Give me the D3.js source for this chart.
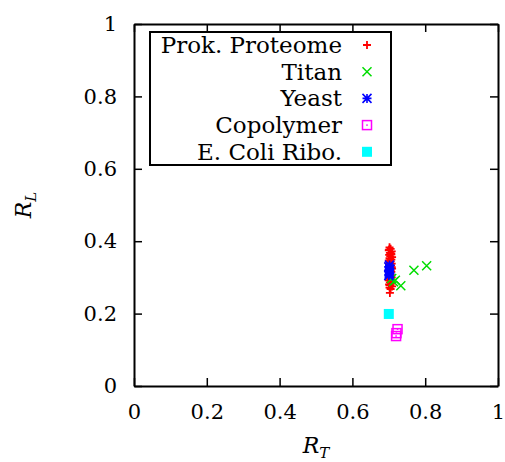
<!DOCTYPE html>
<html>
<head>
<meta charset="utf-8">
<script src="https://cdn.jsdelivr.net/npm/d3@7"></script>
<style>
body{margin:0;background:#fff;}
</style>
</head>
<body>
<div id="chart"></div>
<script>
// data
var seriesNames=['Prok. Proteome','Titan','Yeast','Copolymer','E. Coli Ribo.'];
var seriesColors=['#ff0000','#00dd00','#0000ff','#ff00ff','#00ffff'];
var seriesSymbols=['plus','cross','star','boxdot','boxfill'];

var proteomeRT=[0.702,0.705,0.700,0.708,0.703,0.706,0.701,0.704,0.709,0.702,0.707,0.700,0.705,0.703,0.708,0.701,0.706,0.704,0.702,0.709,0.700,0.705,0.707,0.703,0.701,0.706,0.704,0.708,0.702,0.705,0.700,0.707,0.703,0.706,0.701,0.704,0.709,0.702,0.705,0.703,0.701,0.707,0.704,0.700,0.708,0.703,0.706,0.702];
var proteomeRL=[0.383,0.379,0.375,0.372,0.368,0.366,0.362,0.359,0.356,0.353,0.349,0.347,0.344,0.341,0.338,0.336,0.333,0.330,0.327,0.324,0.321,0.318,0.315,0.312,0.309,0.306,0.303,0.300,0.297,0.295,0.292,0.289,0.286,0.283,0.281,0.278,0.275,0.272,0.268,0.257,0.377,0.364,0.351,0.339,0.328,0.301,0.287,0.279];
var titanRT=[0.769,0.804,0.733,0.713,0.708,0.718];
var titanRL=[0.320,0.332,0.277,0.288,0.297,0.292];
var yeastRT=[0.700,0.702,0.701,0.703,0.700,0.702,0.701];
var yeastRL=[0.305,0.312,0.318,0.323,0.329,0.334,0.309];
var copolyRT=[0.724,0.721,0.720];
var copolyRL=[0.157,0.146,0.138];
var ecoliRT=[0.700];
var ecoliRL=[0.199];

var tickValues=[0,0.2,0.4,0.6,0.8,1];
var tickLabels=['0','0.2','0.4','0.6','0.8','1'];

var FONT='"DejaVu Serif","Liberation Serif",serif';

var width=505,height=462;
var margin={left:134,right:7,top:24,bottom:76};
var w=width-margin.left-margin.right;
var h=height-margin.top-margin.bottom;

var svg=d3.select('#chart').append('svg')
    .attr('width',width)
    .attr('height',height);
var g=svg.append('g')
    .attr('transform','translate('+margin.left+','+margin.top+')');

var x=d3.scaleLinear().domain([0,1]).range([0,w]);
var y=d3.scaleLinear().domain([0,1]).range([h,0]);

function fmt(d){return tickLabels[tickValues.indexOf(d)];}

// axes, ticks pointing inward
var xAxis=d3.axisBottom(x).tickValues(tickValues).tickFormat(fmt).tickSizeInner(-8).tickSizeOuter(0).tickPadding(18);
var yAxis=d3.axisLeft(y).tickValues(tickValues).tickFormat(fmt).tickSizeInner(-8).tickSizeOuter(0).tickPadding(17);
var xTop=d3.axisTop(x).tickValues(tickValues).tickFormat('').tickSizeInner(-8).tickSizeOuter(0);
var yRight=d3.axisRight(y).tickValues(tickValues).tickFormat('').tickSizeInner(-8).tickSizeOuter(0);

g.append('g').attr('transform','translate(0,'+h+')').call(xAxis);
g.append('g').call(yAxis);
g.append('g').call(xTop);
g.append('g').attr('transform','translate('+w+',0)').call(yRight);

g.selectAll('.domain').attr('stroke','#000').attr('stroke-width',2);
g.selectAll('.tick line').attr('stroke','#000').attr('stroke-width',1.5);
g.selectAll('.tick text')
    .style('font-family',FONT).style('font-size','21px').attr('fill','#000');

// axis titles
var xt=svg.append('text')
    .attr('x',margin.left+x(0.5))
    .attr('y',453)
    .attr('text-anchor','middle')
    .style('font-family',FONT).style('font-size','22px');
xt.append('tspan').style('font-style','italic').text('R');
xt.append('tspan').style('font-style','italic').style('font-size','15px').attr('dy',5).text('T');

var yt=svg.append('text')
    .attr('transform','translate(31,205) rotate(-90)')
    .attr('text-anchor','middle')
    .style('font-family',FONT).style('font-size','22px');
yt.append('tspan').style('font-style','italic').text('R');
yt.append('tspan').style('font-style','italic').style('font-size','15px').attr('dy',5).text('L');

function drawSymbol(sel,type,color,cx,cy){
    var s;
    if(type==='plus'){
        s=4;
        sel.append('path').attr('d','M'+(cx-s)+','+cy+'H'+(cx+s)+'M'+cx+','+(cy-s)+'V'+(cy+s))
            .attr('stroke',color).attr('stroke-width',1.8).attr('fill','none');
    }else if(type==='cross'){
        s=4.5;
        sel.append('path').attr('d','M'+(cx-s)+','+(cy-s)+'L'+(cx+s)+','+(cy+s)+'M'+(cx-s)+','+(cy+s)+'L'+(cx+s)+','+(cy-s))
            .attr('stroke',color).attr('stroke-width',1.5).attr('fill','none');
    }else if(type==='star'){
        s=4.5;
        sel.append('path').attr('d','M'+(cx-s)+','+cy+'H'+(cx+s)+'M'+cx+','+(cy-s)+'V'+(cy+s)+
            'M'+(cx-s)+','+(cy-s)+'L'+(cx+s)+','+(cy+s)+'M'+(cx-s)+','+(cy+s)+'L'+(cx+s)+','+(cy-s))
            .attr('stroke',color).attr('stroke-width',1.6).attr('fill','none');
    }else if(type==='boxdot'){
        s=4.5;
        sel.append('rect').attr('x',cx-s).attr('y',cy-s).attr('width',2*s).attr('height',2*s)
            .attr('stroke',color).attr('stroke-width',1.5).attr('fill','none');
        sel.append('rect').attr('x',cx-0.75).attr('y',cy-0.75).attr('width',1.5).attr('height',1.5)
            .attr('fill',color);
    }else{
        s=5;
        sel.append('rect').attr('x',cx-s).attr('y',cy-s).attr('width',2*s).attr('height',2*s)
            .attr('fill',color);
    }
}

var series=[
    {rt:proteomeRT,rl:proteomeRL},
    {rt:titanRT,rl:titanRL},
    {rt:yeastRT,rl:yeastRL},
    {rt:copolyRT,rl:copolyRL},
    {rt:ecoliRT,rl:ecoliRL}
];

var pts=g.append('g');
series.forEach(function(s,i){
    s.rt.forEach(function(v,j){
        drawSymbol(pts,seriesSymbols[i],seriesColors[i],x(v),y(s.rl[j]));
    });
});

// legend
var leg=svg.append('g');
leg.append('rect')
    .attr('x',150).attr('y',32).attr('width',241).attr('height',133)
    .attr('fill','#fff').attr('stroke','#000').attr('stroke-width',2);
seriesNames.forEach(function(name,i){
    var cy=45+i*26.7;
    leg.append('text')
        .attr('x',342).attr('y',cy+8)
        .attr('text-anchor','end')
        .style('font-family',FONT).style('font-size','23px')
        .text(name);
    drawSymbol(leg,seriesSymbols[i],seriesColors[i],367,cy);
});
</script>
</body>
</html>
